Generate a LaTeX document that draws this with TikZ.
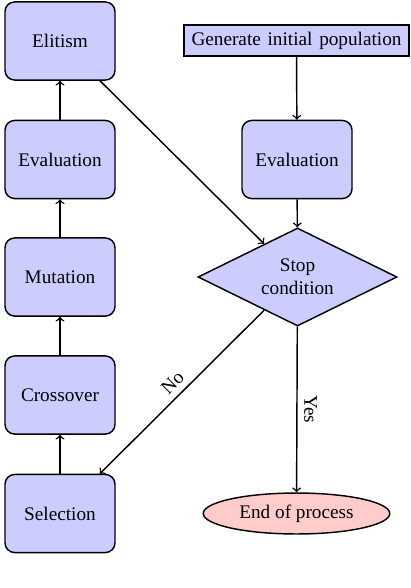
\documentclass[tikz,border=0pt]{standalone}
\usepackage{fontspec}
\setmainfont{Liberation Serif}
\usetikzlibrary{shapes.geometric}
\begin{document}
\begin{tikzpicture}[x=0.52pt,y=-0.52pt,
  blk/.style={draw, fill=blue!20, rounded corners=5pt, minimum width=57.2pt, minimum height=40.6pt, line width=0.75pt},
  startbox/.style={draw, fill=blue!20, minimum width=117pt, minimum height=16.1pt, inner sep=2pt, line width=0.75pt},
  decide/.style={draw, fill=blue!20, diamond, aspect=2, minimum width=103.5pt, minimum height=51pt, inner sep=1pt, align=center, line width=0.75pt},
  endnode/.style={draw, fill=red!20, ellipse, minimum width=97pt, minimum height=21.3pt, inner sep=1pt, line width=0.75pt},
  conn/.style={->, line width=0.75pt}
]
\useasboundingbox (0,0) rectangle (410,588);
\node[blk] (elit) at (60,41) {Elitism};
\node[blk] (evall) at (60,159.5) {Evaluation};
\node[blk] (mut) at (60,277) {Mutation};
\node[blk] (cross) at (60,395) {Crossover};
\node[blk] (sel) at (60,513.5) {Selection};
\node[startbox] (gen) at (296.5,40.5) {Generate\hspace{0.35em}initial\hspace{0.35em}population};
\node[blk] (evalr) at (297,159.5) {Evaluation};
\node[decide] (stop) at (297.5,277) {Stop\\condition};
\node[endnode] (end) at (296.5,513.5) {End of process};
\draw[conn] (sel) -- (cross);
\draw[conn] (cross) -- (mut);
\draw[conn] (mut) -- (evall);
\draw[conn] (evall) -- (elit);
\draw[conn] (gen) -- (evalr);
\draw[conn] (evalr) -- (stop);
\draw[conn] (elit) -- (stop);
\draw[conn] (stop) -- node[rotate=45, anchor=south] {No} (sel);
\draw[conn] (stop) -- node[rotate=-90, anchor=south] {Yes} (end);
\end{tikzpicture}
\end{document}
